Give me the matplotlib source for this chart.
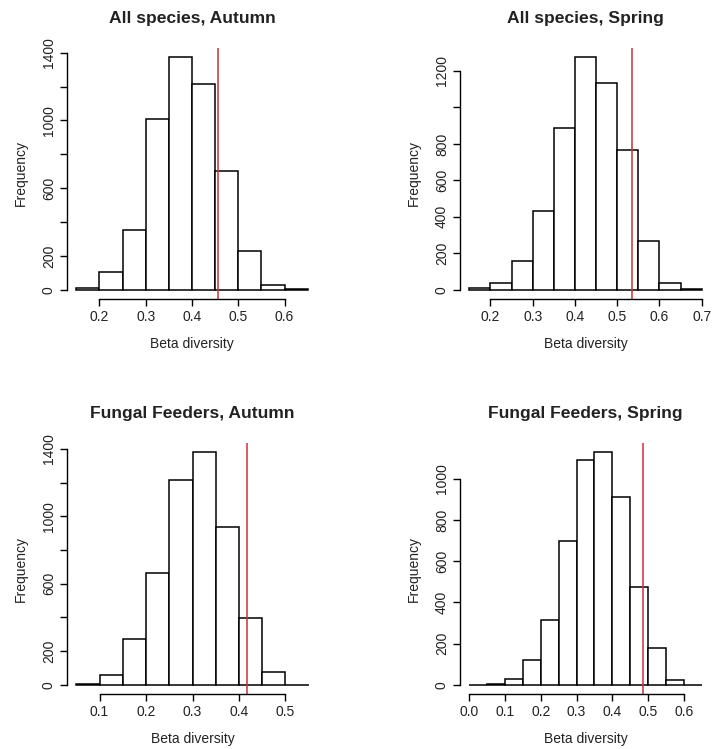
import matplotlib
matplotlib.use('Agg')
import matplotlib.pyplot as plt
import numpy as np

plt.rcParams['font.family'] = ['Liberation Sans', 'DejaVu Sans']

# histogram breaks (bin width 0.05) and counts
titles = ["All species, Autumn", "All species, Spring",
          "Fungal Feeders, Autumn", "Fungal Feeders, Spring"]
break_start = [0.15, 0.15, 0.05, 0.0]
counts_all_autumn = [12, 105, 351, 1008, 1373, 1213, 700, 229, 26, 4]
counts_all_spring = [7, 38, 159, 430, 885, 1275, 1136, 769, 266, 38, 4]
counts_fungal_autumn = [6, 55, 273, 661, 1216, 1380, 935, 394, 77, 0]
counts_fungal_spring = [0, 3, 28, 122, 317, 700, 1094, 1130, 911, 476, 177, 21, 0]
observed = [0.457, 0.535, 0.417, 0.486]

xticks = [[0.2, 0.3, 0.4, 0.5, 0.6],
          [0.2, 0.3, 0.4, 0.5, 0.6, 0.7],
          [0.1, 0.2, 0.3, 0.4, 0.5],
          [0.0, 0.1, 0.2, 0.3, 0.4, 0.5, 0.6]]
yticks = [[0, 200, 400, 600, 800, 1000, 1200, 1400],
          [0, 200, 400, 600, 800, 1000, 1200],
          [0, 200, 400, 600, 800, 1000, 1200, 1400],
          [0, 200, 400, 600, 800, 1000]]
# R drops labels that would overlap
ylabels = [["0", "200", "", "600", "", "1000", "", "1400"],
           ["0", "200", "400", "600", "800", "", "1200"],
           ["0", "200", "", "600", "", "1000", "", "1400"],
           ["0", "200", "400", "600", "800", "1000"]]

all_counts = [counts_all_autumn, counts_all_spring,
              counts_fungal_autumn, counts_fungal_spring]

W, H = 713, 749
fig = plt.figure(figsize=(W / 100, H / 100), dpi=100)

# plot regions in pixels: (left, top, width, height)
regions = [(67, 48, 250, 251), (460, 48, 251, 251),
           (67, 443, 251, 251), (460, 443, 251, 251)]

TXT = '#222222'
for i in range(4):
    l, t, w, h = regions[i]
    ax = fig.add_axes([l / W, 1 - (t + h) / H, w / W, h / H])
    counts = all_counts[i]
    edges = break_start[i] + 0.05 * np.arange(len(counts) + 1)
    ax.bar(edges[:-1], counts, width=0.05, align='edge',
           facecolor='white', edgecolor='black', linewidth=1.1)
    x0, x1 = edges[0], edges[-1]
    dx = (x1 - x0) * 0.04
    ymax = max(counts)
    ax.set_xlim(x0 - dx, x1 + dx)
    ax.set_ylim(-ymax * 0.04, ymax * 1.04)
    ax.axvline(observed[i], color='#c8323c', linewidth=1.1)

    for s in ['top', 'right']:
        ax.spines[s].set_visible(False)
    ax.spines['bottom'].set_bounds(xticks[i][0], xticks[i][-1])
    ax.spines['left'].set_bounds(yticks[i][0], yticks[i][-1])
    ax.spines['bottom'].set_linewidth(1.0)
    ax.spines['left'].set_linewidth(1.0)

    ax.set_xticks(xticks[i])
    ax.set_xticklabels(['%.1f' % v for v in xticks[i]])
    ax.set_yticks(yticks[i])
    ax.set_yticklabels(ylabels[i], rotation=90, va='center')
    ax.tick_params(axis='both', length=5, width=1.0, labelsize=10,
                   colors='black', labelcolor=TXT, pad=3)

    ax.set_xlabel('Beta diversity', fontsize=10, color=TXT, labelpad=9)
    ax.set_ylabel('Frequency', fontsize=10, color=TXT, labelpad=10)
    ax.set_title(titles[i], fontsize=12.6, fontweight='bold', color=TXT, pad=18)

fig.savefig('out.png', dpi=100)
